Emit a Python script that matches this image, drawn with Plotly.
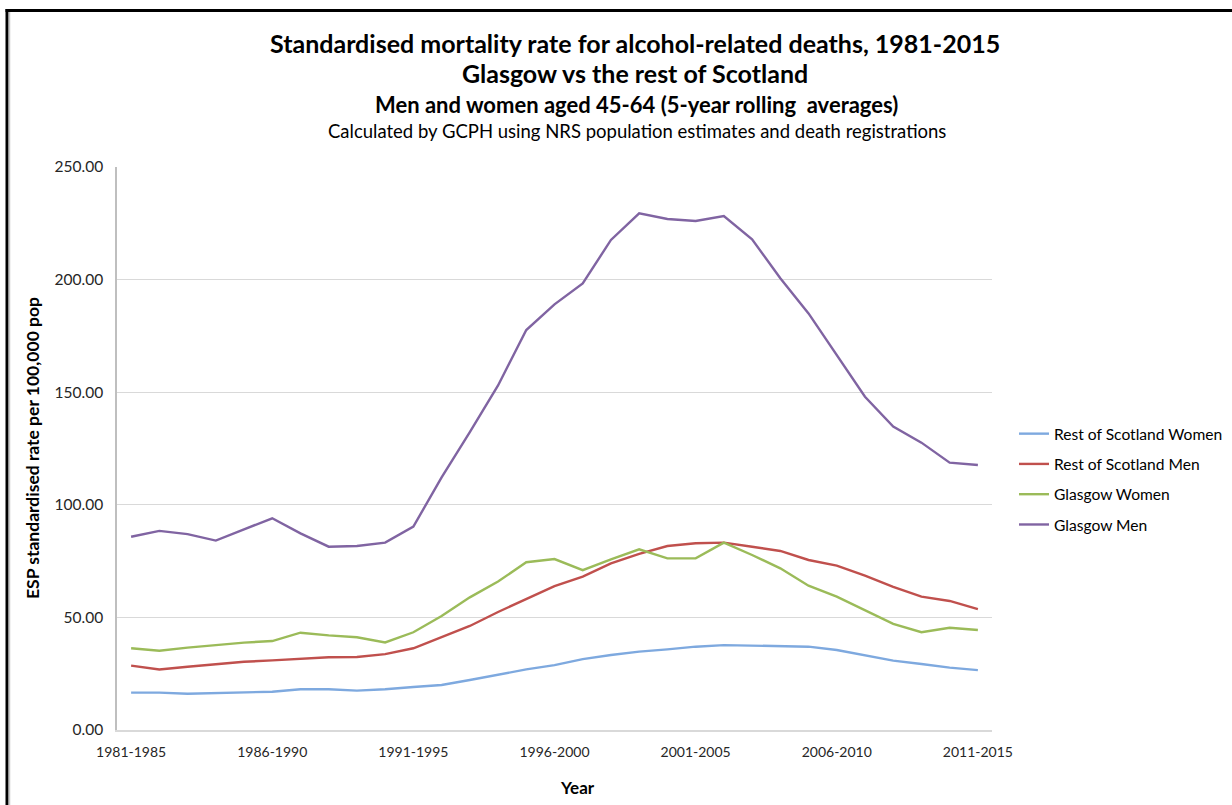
import plotly.graph_objects as go

periods = [f"{y}-{y+4}" for y in range(1981, 2012)]

rest_women = [16.6, 16.6, 16.1, 16.4, 16.4, 17.0, 18.1, 18.1, 17.5, 18.1, 19.1,
              20.0, 22.2, 24.7, 26.9, 28.8, 31.5, 33.3, 34.8, 35.8, 37.0,
              37.7, 37.4, 37.0, 37.0, 35.5, 33.3, 30.8, 29.3, 27.7, 26.6]
rest_men = [28.6, 26.9, 28.1, 29.2, 30.3, 30.9, 31.7, 32.3, 32.4, 33.7, 36.3,
            41.4, 46.2, 52.4, 58.2, 63.9, 68.1, 74.0, 78.2, 81.7, 82.9,
            83.2, 81.4, 79.5, 75.5, 73.0, 68.5, 63.6, 59.2, 57.3, 53.7]
glasgow_women = [36.3, 35.2, 36.6, 37.7, 38.8, 39.5, 43.2, 42.0, 41.2, 38.9, 43.4,
                 50.6, 58.9, 65.9, 74.5, 75.9, 71.0, 75.8, 80.2, 76.2, 76.2,
                 83.2, 77.7, 71.8, 64.1, 59.2, 53.0, 47.1, 43.4, 45.4, 44.4]
glasgow_men = [85.8, 88.4, 87.0, 84.1, 89.1, 94.0, 87.3, 81.4, 81.7, 83.2, 90.3,
               112.2, 132.3, 153.0, 177.6, 189.0, 198.3, 217.6, 229.4, 226.9, 226.0,
               228.2, 217.9, 200.6, 185.0, 166.5, 148.0, 134.7, 127.6, 118.7, 117.7]

series_names = ["Rest of Scotland Women", "Rest of Scotland Men", "Glasgow Women", "Glasgow Men"]
series_values = [rest_women, rest_men, glasgow_women, glasgow_men]
colors = ["#7EA9DF", "#C0504D", "#9BBB59", "#8064A2"]

tick_periods = periods[::5]

FONT = "Lato"

fig = go.Figure()
for name, vals, col in zip(series_names, series_values, colors):
    fig.add_trace(go.Scatter(x=periods, y=vals, mode="lines", name=name,
                             legendgroup=name,
                             line=dict(color=col, width=2.4)))

# Plot area in pixels: x 117..992, y 167..730. Paper region spans x 117..1227.
L, R, T, B = 117, 992, 167, 730
PR = 1227  # right edge of paper region
def px(x):
    return (x - L) / (PR - L)
def py(y):
    return (B - y) / (B - T)

annotations = [
    dict(text="<b>Standardised mortality rate for alcohol-related deaths, 1981-2015</b>",
         x=px(635), y=py(43), font=dict(size=25, color="#000000")),
    dict(text="<b>Glasgow vs the rest of Scotland</b>",
         x=px(635), y=py(73), font=dict(size=25, color="#000000")),
    dict(text="<b>Men and women aged 45-64 (5-year rolling  averages)</b>",
         x=px(636), y=py(104), font=dict(size=22, color="#000000")),
    dict(text="Calculated by GCPH using NRS population estimates and death registrations",
         x=px(637), y=py(131), font=dict(size=18.5, color="#000000")),
    dict(text="<b>ESP standardised rate per 100,000 pop</b>",
         x=px(32), y=py(448), textangle=-90, font=dict(size=17.5, color="#000000")),
    dict(text="<b>Year</b>", x=px(577), y=py(787), font=dict(size=17, color="#000000")),
]
for a in annotations:
    a.update(xref="paper", yref="paper", showarrow=False, xanchor="center", yanchor="middle")
    a["font"]["family"] = FONT

shapes = [
    dict(type="line", xref="paper", yref="paper", x0=px(5.5), x1=px(1232), y0=py(10.5), y1=py(10.5),
         line=dict(color="#000000", width=3)),
    dict(type="line", xref="paper", yref="paper", x0=px(7), x1=px(7), y0=py(9), y1=py(805),
         line=dict(color="#000000", width=3)),
    dict(type="line", xref="paper", yref="paper", x0=px(9.5), x1=px(9.5), y0=py(12), y1=py(805),
         line=dict(color="#C8C8C8", width=1.5)),
]

fig.update_layout(
    width=1232, height=805,
    margin=dict(l=L, r=1232 - PR, t=T, b=805 - B, pad=0, autoexpand=False),
    paper_bgcolor="white", plot_bgcolor="white",
    font=dict(family=FONT, size=13, color="#404040"),
    annotations=annotations,
    shapes=shapes,
    showlegend=True,
    legend=dict(x=px(1014), y=py(417), xanchor="left", yanchor="top",
                font=dict(size=15.6, color="#000000", family=FONT),
                tracegroupgap=7, itemwidth=30, bgcolor="rgba(0,0,0,0)"),
    xaxis=dict(type="category", categoryorder="array", categoryarray=periods,
               domain=[0, px(R)],
               tickmode="array", tickvals=tick_periods, ticktext=tick_periods,
               showgrid=False, showline=True, linecolor="#D9D9D9", linewidth=1.5,
               ticks="outside", ticklen=8, tickcolor="rgba(0,0,0,0)",
               tickfont=dict(size=14, color="#262626"),
               range=[-0.5, len(periods) - 0.5], zeroline=False),
    yaxis=dict(range=[0, 250], dtick=50, tickformat=".2f",
               showgrid=True, gridcolor="#D9D9D9", gridwidth=1,
               showline=True, linecolor="#BFBFBF", linewidth=1.5,
               ticks="outside", ticklen=9, tickcolor="rgba(0,0,0,0)",
               tickfont=dict(size=15.5, color="#262626"), zeroline=False),
)

fig.write_html("out.html", config={"displayModeBar": False},
               post_script="document.body.style.margin='0';document.body.style.overflow='hidden';")
